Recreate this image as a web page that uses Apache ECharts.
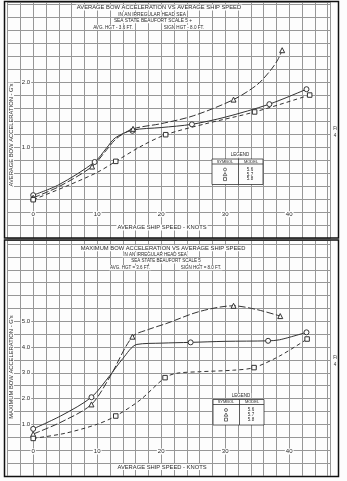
<!DOCTYPE html>
<html>
<head>
<meta charset="utf-8">
<script src="https://cdn.jsdelivr.net/npm/echarts@6/dist/echarts.min.js"></script>
<style>
  html, body { margin: 0; padding: 0; background: #fdfdfd; }
  #c { width: 347px; height: 481px; }
</style>
</head>
<body>
<div id="c"></div>
<script>
// ---- Average bow acceleration (g) vs average ship speed (knots) ----
// test points per model
const avgSpeed56 = [0, 9.6, 15.5, 24.8, 36.9, 42.7];
const avgAcc56   = [0.27, 0.78, 1.26, 1.36, 1.67, 1.90];
const avgSpeed57 = [0, 9.2, 15.6, 31.3, 38.9];
const avgAcc57   = [0.23, 0.71, 1.29, 1.74, 2.50];
const avgSpeed58 = [0, 12.9, 20.7, 34.6, 43.2];
const avgAcc58   = [0.20, 0.79, 1.20, 1.55, 1.81];
// faired curves through the points
const avgCurveSpeed56 = [0, 4, 9.6, 11.5, 12.8, 15.5, 20, 24.8, 30, 36.9, 42.7];
const avgCurveAcc56   = [0.27, 0.43, 0.78, 1.00, 1.15, 1.27, 1.31, 1.36, 1.47, 1.67, 1.90];
const avgCurveSpeed57 = [0, 4, 9.2, 11.5, 13, 15.6, 20, 25, 31.3, 35, 37, 38.2, 38.9];
const avgCurveAcc57   = [0.23, 0.40, 0.71, 0.97, 1.14, 1.29, 1.37, 1.49, 1.74, 1.97, 2.18, 2.35, 2.50];
const avgCurveSpeed58 = [0, 5, 10, 12.9, 17, 20.7, 27, 34.6, 43.2];
const avgCurveAcc58   = [0.20, 0.40, 0.62, 0.79, 1.03, 1.20, 1.37, 1.55, 1.81];

// ---- Maximum bow acceleration (g) vs average ship speed (knots) ----
const maxSpeed56 = [0, 9.1, 24.6, 36.7, 42.7];
const maxAcc56   = [0.82, 2.05, 4.18, 4.24, 4.57];
const maxSpeed57 = [0, 9.1, 15.5, 31.3, 38.6];
const maxAcc57   = [0.62, 1.77, 4.40, 5.60, 5.20];
const maxSpeed58 = [0, 12.9, 20.6, 34.5, 42.8];
const maxAcc58   = [0.45, 1.32, 2.81, 3.20, 4.31];
const maxCurveSpeed56 = [0, 4.5, 9.1, 12, 14, 16.2, 20, 24.6, 30, 36.7, 38.5, 42.7];
const maxCurveAcc56   = [0.82, 1.35, 2.05, 2.90, 3.55, 4.10, 4.15, 4.18, 4.22, 4.24, 4.28, 4.57];
const maxCurveSpeed57 = [0, 4.5, 9.1, 12, 15.5, 18, 20.9, 26, 31.3, 35, 38.6];
const maxCurveAcc57   = [0.62, 1.10, 1.77, 2.85, 4.40, 4.68, 4.92, 5.38, 5.60, 5.45, 5.20];
const maxCurveSpeed58 = [0, 5, 10, 12.9, 16.7, 20.6, 22.4, 26, 31.3, 34.5, 38.5, 42.8];
const maxCurveAcc58   = [0.45, 0.65, 1.00, 1.32, 1.94, 2.81, 2.98, 3.04, 3.10, 3.20, 3.65, 4.31];

// Tick labels
const speedTicks = [0, 10, 20, 30, 40];
const avgAccTicks = [1, 2];
const maxAccTicks = [1, 2, 3, 4, 5];
const models = ['5.6', '5.7', '5.8'];
const symbols = ['circle', 'triangle', 'rect'];

// ---- layout ----
const FONT = 'Liberation Sans';
const INK = '#2b2b2b';
const LINE = '#333';
const GRIDC = '#979797';
const BG = '#fdfdfd';
const X0 = 33.2, PXK = 6.4;          // pixel of 0 knots, pixels per knot
const X_MIN = -4, X_MAX = 46.4;

const panels = [
  { y0: 212.7, py: 65, yMin: -0.4, yMax: 3.24, step: 0.2, ticks: avgAccTicks,
    marks: [[avgSpeed56, avgAcc56], [avgSpeed57, avgAcc57], [avgSpeed58, avgAcc58]],
    curves: [[avgCurveSpeed56, avgCurveAcc56], [avgCurveSpeed57, avgCurveAcc57], [avgCurveSpeed58, avgCurveAcc58]] },
  { y0: 450, py: 25.75, yMin: -1, yMax: 8.15, step: 0.5, ticks: maxAccTicks,
    marks: [[maxSpeed56, maxAcc56], [maxSpeed57, maxAcc57], [maxSpeed58, maxAcc58]],
    curves: [[maxCurveSpeed56, maxCurveAcc56], [maxCurveSpeed57, maxCurveAcc57], [maxCurveSpeed58, maxCurveAcc58]] }
];

const lineTypes = ['solid', [7, 2.5], [4, 3]];

function pairs(xs, ys) { return xs.map((x, i) => [x, ys[i]]); }

const grids = [], xAxes = [], yAxes = [], series = [];
panels.forEach((p, gi) => {
  // axes sit on the zero lines: shift them in from the grid edges
  const xShift = -(-p.yMin * p.py);   // from grid bottom up to acceleration 0
  const yShift = -(-X_MIN * PXK);     // from grid left across to speed 0
  grids.push({
    left: X0 + X_MIN * PXK,
    width: (X_MAX - X_MIN) * PXK,
    top: p.y0 - p.yMax * p.py,
    height: (p.yMax - p.yMin) * p.py,
    containLabel: false
  });
  xAxes.push({
    type: 'value', gridIndex: gi, min: X_MIN, max: X_MAX, interval: 2,
    position: 'bottom', offset: xShift,
    axisLine: { show: false, onZero: false },
    axisTick: { show: false },
    splitLine: { show: true, lineStyle: { color: GRIDC, width: 1 } },
    axisLabel: {
      formatter: v => speedTicks.includes(v) ? String(v) : '',
      margin: -1.5, fontSize: 6, fontFamily: FONT, color: INK,
      backgroundColor: BG, padding: [0, 1]
    }
  });
  yAxes.push({
    type: 'value', gridIndex: gi, min: p.yMin, max: p.yMax, interval: p.step,
    position: 'left', offset: yShift,
    axisLine: { show: false, onZero: false },
    axisTick: { show: false },
    splitLine: { show: true, lineStyle: { color: GRIDC, width: 1 } },
    axisLabel: {
      formatter: v => p.ticks.some(t => Math.abs(t - v) < 1e-6) ? v.toFixed(1) : '',
      margin: 2, fontSize: 6, fontFamily: FONT, color: INK,
      backgroundColor: BG, padding: [0, 1]
    }
  });
  p.curves.forEach((s, k) => {
    series.push({
      type: 'line', name: models[k] + ' curve', xAxisIndex: gi, yAxisIndex: gi,
      data: pairs(s[0], s[1]),
      smooth: 0.3, symbol: 'none',
      lineStyle: { color: LINE, width: 1, type: lineTypes[k] },
      emphasis: { disabled: true }, silent: true,
      z: 3
    });
  });
  p.marks.forEach((s, k) => {
    series.push({
      type: 'scatter', name: models[k], xAxisIndex: gi, yAxisIndex: gi,
      data: pairs(s[0], s[1]),
      symbol: symbols[k], symbolSize: k === 2 ? 4.5 : 5,
      itemStyle: { color: BG, borderColor: LINE, borderWidth: 1, opacity: 1 },
      emphasis: { disabled: true }, silent: true,
      z: 4
    });
  });
});

// ---- drawn text and table elements ----
function txt(x, y, text, size, opts) {
  return Object.assign({
    type: 'text', x: x, y: y, z: 20,
    style: Object.assign({
      text: text, fontSize: size, fontFamily: FONT, fill: INK,
      align: 'center', verticalAlign: 'middle',
      backgroundColor: BG, padding: [0, 1]
    }, (opts && opts.style) || {})
  }, (opts && opts.el) || {});
}

function legendTable(x, y) {
  const w = 51, h = 25.5, hdr = 5, div = 26.5;
  const els = [];
  els.push(txt(x + 28, y - 4, 'LEGEND', 4.5));
  els.push({ type: 'rect', z: 20, shape: { x: x, y: y, width: w, height: h },
             style: { fill: BG, stroke: '#333', lineWidth: 0.8 } });
  els.push({ type: 'line', z: 21, shape: { x1: x, y1: y + hdr, x2: x + w, y2: y + hdr },
             style: { stroke: '#333', lineWidth: 0.8 } });
  els.push({ type: 'line', z: 21, shape: { x1: x + div, y1: y, x2: x + div, y2: y + h },
             style: { stroke: '#333', lineWidth: 0.8 } });
  els.push(txt(x + 13, y + 2.6, 'SYMBOL', 4, { style: { backgroundColor: null } }));
  els.push(txt(x + 39, y + 2.6, 'MODEL', 4, { style: { backgroundColor: null } }));
  const sx = x + 13;
  models.forEach((m, k) => {
    const ry = y + 10.5 + k * 4.8;
    const stroke = { fill: BG, stroke: '#333', lineWidth: 0.7 };
    if (k === 0) els.push({ type: 'circle', z: 22, shape: { cx: sx, cy: ry, r: 1.5 }, style: stroke });
    if (k === 1) els.push({ type: 'polygon', z: 22, shape: { points: [[sx, ry - 1.8], [sx - 1.8, ry + 1.4], [sx + 1.8, ry + 1.4]] }, style: stroke });
    if (k === 2) els.push({ type: 'rect', z: 22, shape: { x: sx - 1.5, y: ry - 1.5, width: 3, height: 3 }, style: stroke });
    els.push(txt(x + 38, ry, m, 4.5, { style: { backgroundColor: null } }));
  });
  return els;
}

const graphics = [].concat(
  // upper panel headings
  txt(159, 7.5, 'AVERAGE BOW ACCELERATION VS AVERAGE SHIP SPEED', 5.8),
  txt(152, 14.3, 'IN AN IRREGULAR HEAD SEA', 4.8),
  txt(153, 20.7, 'SEA STATE BEAUFORT SCALE 5 +', 4.8),
  txt(113, 27.3, 'AVG. HGT - 3.6 FT.', 4.6),
  txt(184, 27.3, 'SIGN HGT - 8.0 FT.', 4.6),
  txt(162, 227.5, 'AVERAGE SHIP SPEED - KNOTS', 5.8),
  txt(11, 135, "AVERAGE BOW ACCELERATION - G's", 5.8, { el: { rotation: Math.PI / 2 } }),
  legendTable(212, 159),
  // lower panel headings
  txt(163, 248.3, 'MAXIMUM BOW ACCELERATION VS AVERAGE SHIP SPEED', 5.8),
  txt(155, 254.7, 'IN AN IRREGULAR HEAD SEA', 4.5),
  txt(166, 261, 'SEA STATE BEAUFORT SCALE 5', 4.5),
  txt(130, 267.7, 'AVG. HGT = 3.6 FT.', 4.5),
  txt(201, 267.7, 'SIGN HGT = 8.0 FT.', 4.5),
  txt(162, 467, 'AVERAGE SHIP SPEED - KNOTS', 5.8),
  txt(11, 367, "MAXIMUM BOW ACCELERATION - G's", 5.8, { el: { rotation: Math.PI / 2 } }),
  legendTable(213, 399.5),
  // page edge marks
  txt(335, 129, 'Fi', 4.5, { style: { backgroundColor: null } }),
  txt(335, 136, '4', 4.5, { style: { backgroundColor: null } }),
  txt(335, 358, 'Fi', 4.5, { style: { backgroundColor: null } }),
  txt(335, 365, '4', 4.5, { style: { backgroundColor: null } }),
  // frames
  { type: 'rect', z: 25, shape: { x: 4.5, y: 1.5, width: 334, height: 236.5 },
    style: { fill: null, stroke: '#111', lineWidth: 1.5 } },
  { type: 'rect', z: 25, shape: { x: 4.5, y: 240, width: 334, height: 236.5 },
    style: { fill: null, stroke: '#111', lineWidth: 1.5 } }
);

const chart = echarts.init(document.getElementById('c'), null, { renderer: 'canvas' });
chart.setOption({
  backgroundColor: BG,
  animation: false,
  grid: grids,
  xAxis: xAxes,
  yAxis: yAxes,
  series: series,
  graphic: { elements: graphics }
});
</script>
</body>
</html>
